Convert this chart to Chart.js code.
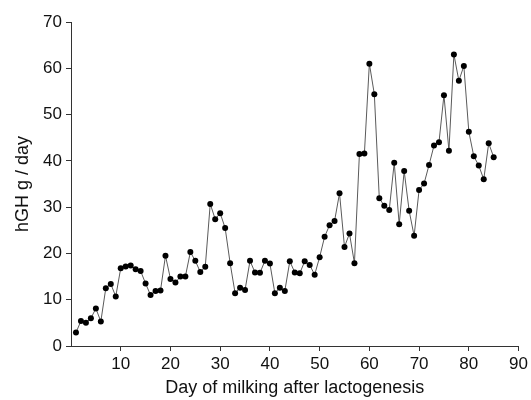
<!DOCTYPE html>
<html>
<head>
<meta charset="utf-8">
<script src="https://cdn.jsdelivr.net/npm/chart.js@4.4.1/dist/chart.umd.min.js"></script>
<style>
  html, body { margin: 0; padding: 0; background: #fff; }
  #wrap { width: 531px; height: 400px; }
</style>
</head>
<body>
<div id="wrap"><canvas id="Chart" width="531" height="400"></canvas></div>
<script>
// day of milking after lactogenesis
var days = [1, 2, 3, 4, 5, 6, 7, 8, 9, 10, 11, 12, 13, 14, 15, 16, 17, 18, 19, 20,
  21, 22, 23, 24, 25, 26, 27, 28, 29, 30, 31, 32, 33, 34, 35, 36, 37, 38, 39, 40,
  41, 42, 43, 44, 45, 46, 47, 48, 49, 50, 51, 52, 53, 54, 55, 56, 57, 58, 59, 60,
  61, 62, 63, 64, 65, 66, 67, 68, 69, 70, 71, 72, 73, 74, 75, 76, 77, 78, 79, 80,
  81, 82, 83, 84, 85];

// hGH g / day
var hgh = [2.9, 5.4, 5.0, 6.0, 8.1, 5.3, 12.5, 13.4, 10.7, 16.8,
  17.2, 17.4, 16.6, 16.2, 13.5, 11.0, 11.9, 12.0, 19.5, 14.5,
  13.7, 15.0, 15.0, 20.3, 18.4, 16.0, 17.1, 30.7, 27.4, 28.7,
  25.5, 17.9, 11.4, 12.6, 12.1, 18.4, 15.9, 15.8, 18.4, 17.8,
  11.4, 12.6, 11.9, 18.3, 15.9, 15.7, 18.3, 17.5, 15.4, 19.2,
  23.6, 26.1, 27.0, 33.0, 21.4, 24.3, 17.9, 41.5, 41.6, 61.0,
  54.4, 31.9, 30.3, 29.4, 39.6, 26.3, 37.8, 29.2, 23.8, 33.7,
  35.1, 39.1, 43.3, 44.0, 54.2, 42.2, 63.0, 57.3, 60.5, 46.3,
  41.0, 39.0, 36.0, 43.8, 40.8];

var xTicks = [10, 20, 30, 40, 50, 60, 70, 80, 90];
var yTicks = [0, 10, 20, 30, 40, 50, 60, 70];

var points = days.map(function (d, i) { return { x: d, y: hgh[i] }; });

var axisColor = "#333";
var font = "'Liberation Sans', Arial, Helvetica, sans-serif";

var ctx = document.getElementById("Chart").getContext("2d");
var chart = new Chart(ctx, {
  type: "line",
  data: {
    datasets: [
      {
        data: points,
        borderColor: "#5a5a5a",
        borderWidth: 1,
        pointRadius: 3,
        pointBackgroundColor: "#000",
        pointBorderWidth: 0,
        tension: 0,
        fill: false,
      },
    ],
  },
  options: {
    responsive: false,
    animation: false,
    layout: { padding: { left: 0, right: 10, top: 22, bottom: 0 } },
    plugins: { legend: { display: false }, tooltip: { enabled: false } },
    scales: {
      x: {
        type: "linear",
        min: 0,
        max: 90,
        afterBuildTicks: function (scale) {
          scale.ticks = xTicks.map(function (v) { return { value: v }; });
        },
        afterFit: function (scale) { scale.height = 54; },
        grid: { drawOnChartArea: false, drawTicks: true, tickLength: 5, color: axisColor },
        border: { display: true, color: axisColor, width: 1 },
        ticks: { color: "#111", padding: 3, font: { family: font, size: 17 }, maxRotation: 0 },
        title: {
          display: true,
          text: "Day of milking after lactogenesis",
          color: "#111",
          padding: { top: 1, bottom: 1 },
          font: { family: font, size: 18 },
        },
      },
      y: {
        min: 0,
        max: 70,
        afterBuildTicks: function (scale) {
          scale.ticks = yTicks.map(function (v) { return { value: v }; });
        },
        afterFit: function (scale) { scale.width = 71; },
        grid: { drawOnChartArea: false, drawTicks: true, tickLength: 5, color: axisColor },
        border: { display: true, color: axisColor, width: 1 },
        ticks: { color: "#111", padding: 4, font: { family: font, size: 17 } },
        title: {
          display: true,
          text: "hGH g / day",
          color: "#111",
          padding: { top: 12, bottom: 0 },
          font: { family: font, size: 18 },
        },
      },
    },
  },
});
</script>
</body>
</html>
